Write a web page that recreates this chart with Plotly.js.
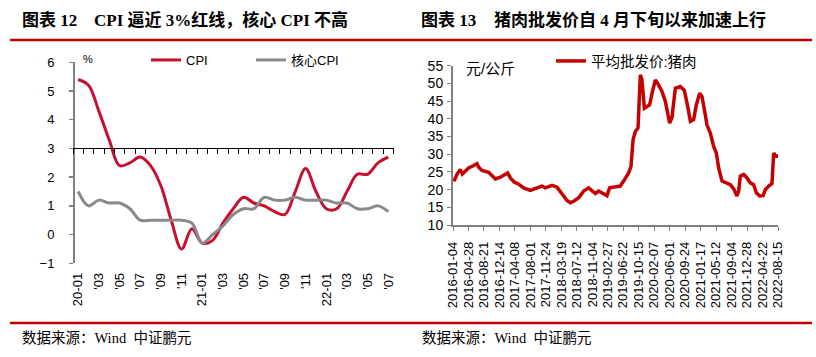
<!DOCTYPE html>
<html>
<head>
<meta charset="utf-8">
<script src="https://cdn.plot.ly/plotly-3.0.1.min.js"></script>
<style>html,body{margin:0;padding:0;background:#fff;}#chart{width:816px;height:357px;}</style>
</head>
<body>
<div id="chart"></div>
<script>
// ---- Left chart data (CPI YoY, %) ----
const months = ['2020-01','2020-02','2020-03','2020-04','2020-05','2020-06','2020-07','2020-08','2020-09','2020-10','2020-11','2020-12',
  '2021-01','2021-02','2021-03','2021-04','2021-05','2021-06','2021-07','2021-08','2021-09','2021-10','2021-11','2021-12',
  '2022-01','2022-02','2022-03','2022-04','2022-05','2022-06','2022-07'];
const cpi = [5.4,5.2,4.3,3.3,2.4,2.5,2.7,2.4,1.7,0.5,-0.5,0.2,
  -0.3,-0.2,0.4,0.9,1.3,1.1,1.0,0.8,0.7,1.5,2.3,1.5,
  0.9,0.9,1.5,2.1,2.1,2.5,2.7];
const coreCpi = [1.5,1.0,1.2,1.1,1.1,0.9,0.5,0.5,0.5,0.5,0.5,0.4,
  -0.3,0.0,0.3,0.7,0.9,0.9,1.3,1.2,1.2,1.3,1.2,1.2,
  1.2,1.1,1.1,0.9,0.9,1.0,0.8];
const leftTickLabels = ['20-01',"'03","'05","'07","'09","'11",'21-01',"'03","'05","'07","'09","'11",'22-01',"'03","'05","'07"];

// ---- Right chart data (pork wholesale price, yuan/kg) ----
const porkDates = ['2016-01-04','2016-01-16','2016-02-03','2016-02-27','2016-03-13','2016-04-05','2016-04-29','2016-06-06','2016-06-30','2016-07-13',
  '2016-08-06','2016-09-25','2016-10-20','2016-11-14','2016-12-21','2017-01-27','2017-02-13','2017-03-05','2017-04-04','2017-04-29',
  '2017-06-12','2017-08-01','2017-09-19','2017-10-26','2017-11-20','2018-01-09','2018-02-15','2018-03-24','2018-04-30','2018-05-25',
  '2018-06-19','2018-07-26','2018-09-01','2018-10-08','2018-11-09','2018-11-27','2018-12-21','2019-01-23','2019-02-21','2019-03-13',
  '2019-04-24','2019-05-31','2019-06-25','2019-08-01','2019-08-19','2019-09-03','2019-09-20','2019-10-10','2019-10-27','2019-11-08',
  '2019-11-26','2019-12-16','2020-01-04','2020-01-22','2020-02-16','2020-03-04','2020-04-05','2020-04-30','2020-05-17','2020-06-01',
  '2020-06-18','2020-07-13','2020-08-19','2020-09-18','2020-10-13','2020-11-02','2020-11-26','2020-12-16','2021-01-10','2021-01-27',
  '2021-02-21','2021-03-05','2021-03-30','2021-04-24','2021-05-14','2021-05-31','2021-06-25','2021-07-20','2021-08-26','2021-09-20',
  '2021-10-14','2021-10-27','2021-11-08','2021-12-03','2021-12-28','2022-01-21','2022-02-15','2022-03-07','2022-04-01','2022-04-26',
  '2022-05-13','2022-06-07','2022-07-01','2022-07-14','2022-07-31','2022-08-15'];
const porkPrice = [23.0,22.8,24.3,25.7,24.4,25.2,26.1,26.8,27.3,26.3,
  25.4,24.9,23.8,23.0,23.5,24.3,24.7,23.3,22.1,21.7,
  20.5,19.8,20.5,21.0,20.5,21.2,20.7,18.9,16.9,16.3,
  16.7,17.7,19.6,20.5,19.6,18.9,19.6,18.9,18.3,20.5,
  20.7,21.0,22.4,24.7,26.6,34.1,36.4,37.4,52.4,51.0,
  43.0,43.5,43.9,47.2,51.0,50.0,47.7,44.9,42.1,38.8,
  40.3,48.6,49.1,48.0,43.5,39.3,39.8,43.9,47.2,46.3,
  41.1,38.3,36.0,32.2,30.3,26.1,22.4,21.9,21.4,20.2,
  18.2,19.6,23.8,24.3,23.3,21.9,21.4,19.1,18.2,18.3,
  20.0,21.0,21.7,30.3,29.4,29.4];
const rightTickDates = ['2016-01-04','2016-04-28','2016-08-21','2016-12-14','2017-04-08','2017-08-01','2017-11-24','2018-03-19','2018-07-12','2018-11-04',
  '2019-02-27','2019-06-22','2019-10-15','2020-02-07','2020-06-01','2020-09-24','2021-01-17','2021-05-12','2021-09-04','2021-12-28',
  '2022-04-22','2022-08-15'];

const W = 816, H = 357;
const px = v => v / W;
const py = v => 1 - v / H;

const SANS = 'Liberation Sans, Arial, Noto Sans CJK SC, sans-serif';
const TITLE = 'Liberation Serif, Times New Roman, Noto Sans CJK SC, serif';
const RED = '#C8102E';
const PORK = '#C40000';
const GRAY = '#898989';

const traces = [
  {x: months, y: cpi, name: 'CPI', type: 'scatter', mode: 'lines',
   line: {color: RED, width: 3, shape: 'spline', smoothing: 1}, xaxis: 'x', yaxis: 'y', legend: 'legend'},
  {x: months, y: coreCpi, name: '核心CPI', type: 'scatter', mode: 'lines',
   line: {color: GRAY, width: 3, shape: 'spline', smoothing: 1}, xaxis: 'x', yaxis: 'y', legend: 'legend'},
  {x: [], y: [], xaxis: 'x2', yaxis: 'y', showlegend: false, hoverinfo: 'skip'},
  {x: porkDates, y: porkPrice, name: '平均批发价:猪肉', type: 'scatter', mode: 'lines',
   line: {color: PORK, width: 3.5}, xaxis: 'x3', yaxis: 'y3', legend: 'legend2'}
];

const layout = {
  width: W, height: H,
  margin: {l: 0, r: 0, t: 0, b: 0},
  paper_bgcolor: '#fff', plot_bgcolor: 'rgba(0,0,0,0)',
  showlegend: true,
  font: {family: SANS, color: '#000', size: 13},
  xaxis: {
    domain: [px(73), px(393.5)], anchor: 'y', type: 'category',
    range: [-0.5, 30.5], showgrid: false, zeroline: false, showline: false, ticks: '',
    tickvals: months.filter((m, i) => i % 2 === 0), ticktext: leftTickLabels,
    tickangle: -90, ticklabelstandoff: 6, tickfont: {size: 13, family: SANS}
  },
  xaxis2: {
    domain: [px(73), px(393.5)], anchor: 'free', overlaying: 'x', position: py(148.4),
    range: [-0.5, 30.5], tick0: -0.5, dtick: 1, showgrid: false, zeroline: false,
    showline: true, linecolor: '#000', linewidth: 1, ticks: 'outside', ticklen: 5, tickcolor: '#000',
    showticklabels: false
  },
  yaxis: {
    domain: [py(263.3), py(62.3)], anchor: 'free', position: px(74), range: [-1, 6], dtick: 1,
    showgrid: false, zeroline: false, showline: true, linecolor: '#808080', linewidth: 2,
    ticks: 'outside', ticklen: 4, tickcolor: '#808080', tickwidth: 1.5, ticklabelstandoff: 12,
    tickfont: {size: 13, family: SANS}
  },
  xaxis3: {
    domain: [px(453), px(778)], anchor: 'y3', type: 'date',
    range: ['2016-01-04', '2022-08-15'], showgrid: false, zeroline: false,
    showline: true, linecolor: '#808080', linewidth: 1.5,
    ticks: 'outside', ticklen: 4, tickcolor: '#808080',
    tickvals: rightTickDates, ticktext: rightTickDates, tickangle: -90, ticklabelstandoff: 6,
    tickfont: {size: 13, family: SANS}
  },
  yaxis3: {
    domain: [py(225), py(65.7)], anchor: 'x3', range: [10, 55], dtick: 5,
    showgrid: false, zeroline: false, showline: true, linecolor: '#808080', linewidth: 2,
    ticks: 'outside', ticklen: 4, tickcolor: '#808080', ticklabelstandoff: 1,
    tickfont: {size: 14, family: SANS}
  },
  legend: {
    x: px(146), y: py(60), xanchor: 'left', yanchor: 'middle', orientation: 'h',
    entrywidth: 60, entrywidthmode: 'pixels', bgcolor: 'rgba(0,0,0,0)', borderwidth: 0,
    font: {size: 13, family: SANS}, itemwidth: 30, tracegroupgap: 0
  },
  legend2: {
    x: px(551), y: py(61), xanchor: 'left', yanchor: 'middle', orientation: 'h',
    bgcolor: 'rgba(0,0,0,0)', borderwidth: 0,
    font: {size: 14.5, family: SANS}, itemwidth: 30
  },
  shapes: [
    {type: 'line', xref: 'paper', yref: 'paper', x0: px(10), x1: px(812), y0: py(40), y1: py(40), line: {color: '#C00000', width: 2.5}},
    {type: 'line', xref: 'paper', yref: 'paper', x0: px(10), x1: px(812), y0: py(323), y1: py(323), line: {color: '#C00000', width: 2.5}}
  ],
  annotations: [
    {text: '<b>图表 12</b>', xref: 'paper', yref: 'paper', x: px(20), y: py(20), xanchor: 'left', yanchor: 'middle', showarrow: false, font: {size: 17, family: TITLE, color: '#000'}},
    {text: '<b>CPI 逼近 3%红线，核心 CPI 不高</b>', xref: 'paper', yref: 'paper', x: px(92), y: py(20), xanchor: 'left', yanchor: 'middle', showarrow: false, font: {size: 17, family: TITLE, color: '#000'}},
    {text: '<b>图表 13</b>', xref: 'paper', yref: 'paper', x: px(419), y: py(20), xanchor: 'left', yanchor: 'middle', showarrow: false, font: {size: 17, family: TITLE, color: '#000'}},
    {text: '<b>猪肉批发价自 4 月下旬以来加速上行</b>', xref: 'paper', yref: 'paper', x: px(492), y: py(20), xanchor: 'left', yanchor: 'middle', showarrow: false, font: {size: 17, family: TITLE, color: '#000'}},
    {text: '数据来源：Wind  中证鹏元', xref: 'paper', yref: 'paper', x: px(20), y: py(338), xanchor: 'left', yanchor: 'middle', showarrow: false, font: {size: 14.5, family: TITLE, color: '#000'}},
    {text: '数据来源：Wind  中证鹏元', xref: 'paper', yref: 'paper', x: px(420), y: py(338), xanchor: 'left', yanchor: 'middle', showarrow: false, font: {size: 14.5, family: TITLE, color: '#000'}},
    {text: '%', xref: 'paper', yref: 'paper', x: px(88), y: py(59), xanchor: 'center', yanchor: 'middle', showarrow: false, font: {size: 11, family: SANS, color: '#000'}},
    {text: '元/公斤', xref: 'paper', yref: 'paper', x: px(464), y: py(68), xanchor: 'left', yanchor: 'middle', showarrow: false, font: {size: 15, family: SANS, color: '#000'}}
  ]
};

Plotly.newPlot('chart', traces, layout, {staticPlot: true, displayModeBar: false});
</script>
</body>
</html>
